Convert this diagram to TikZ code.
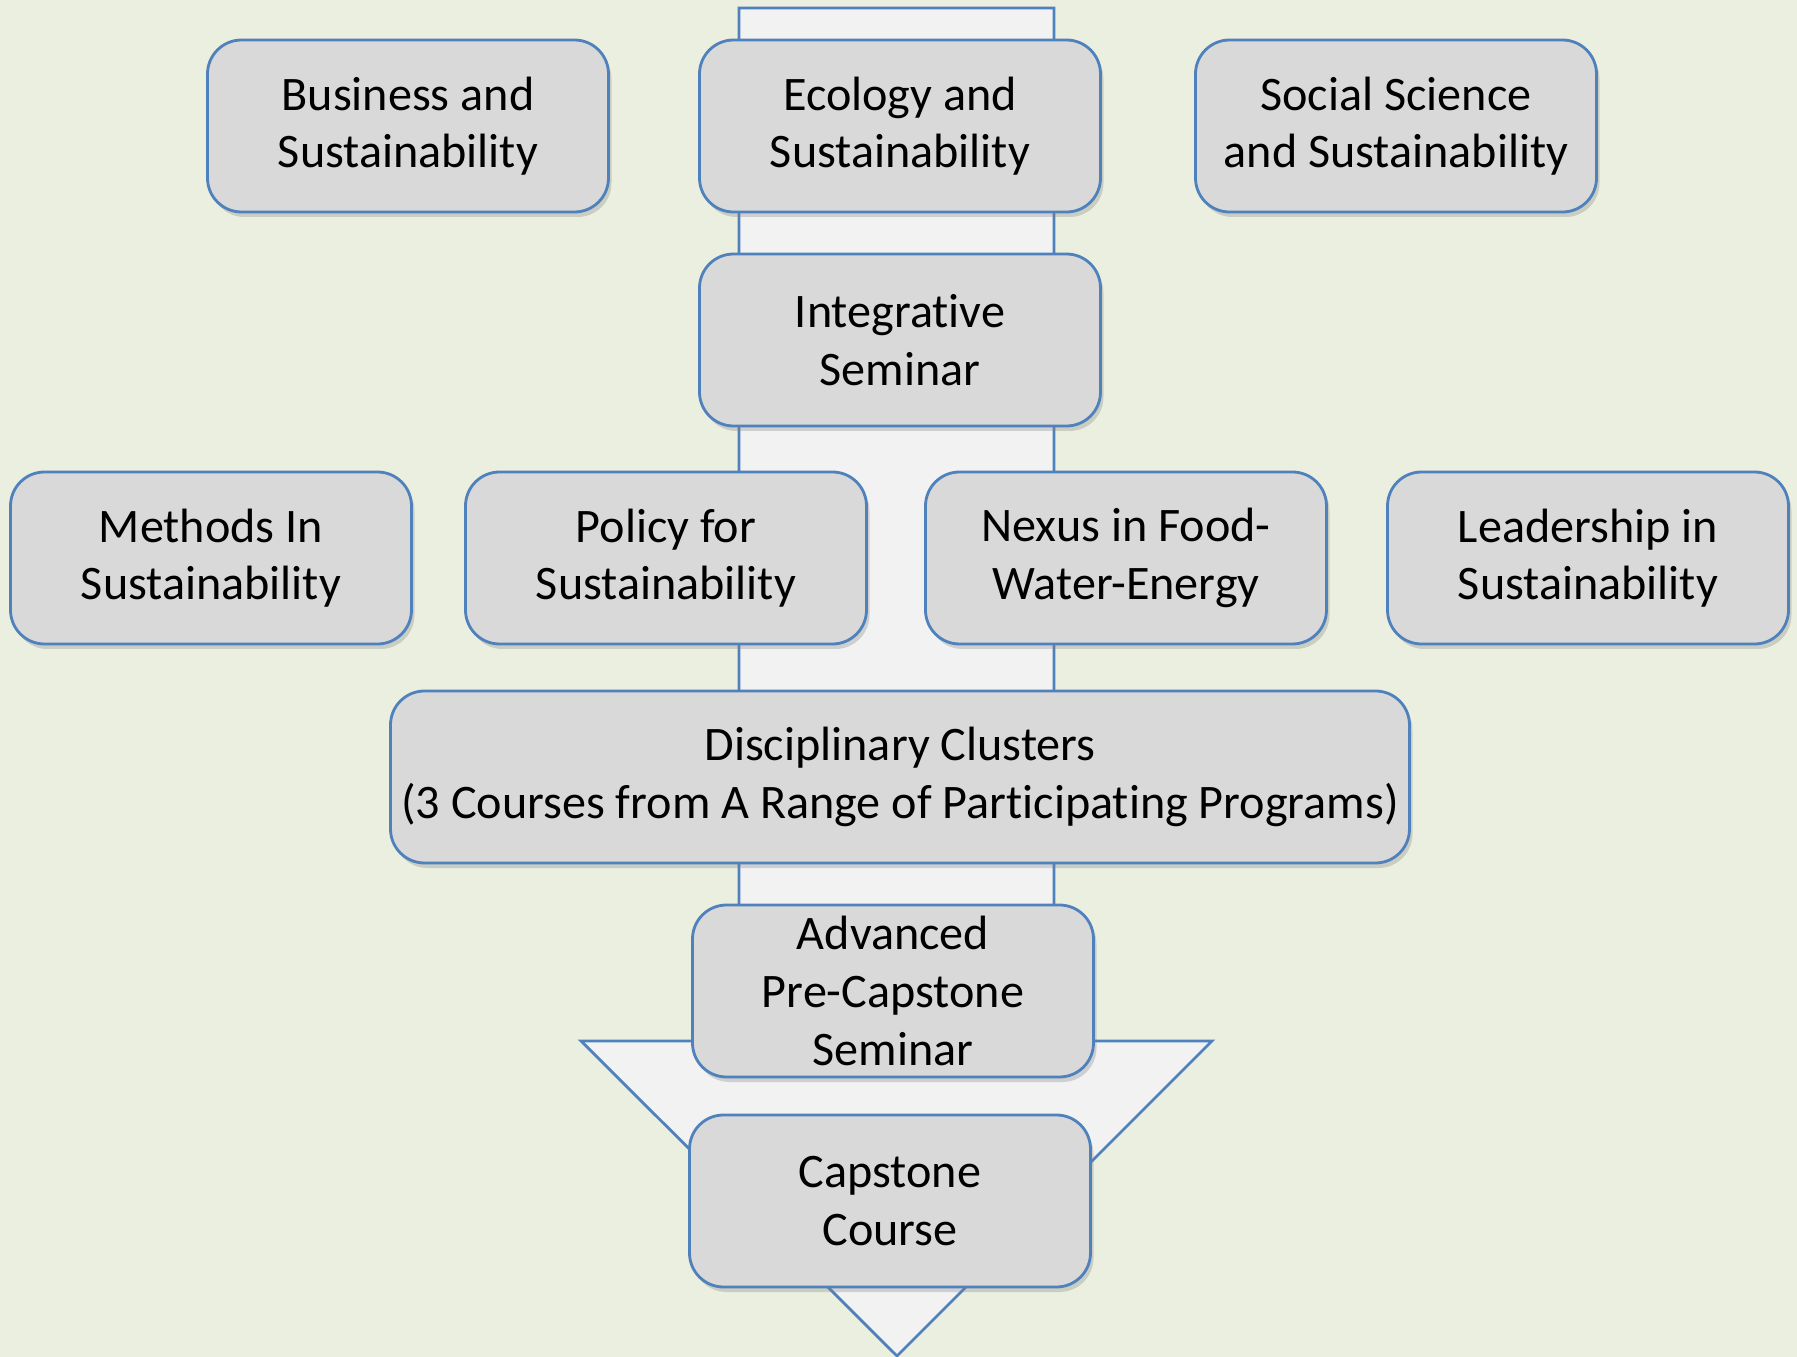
\documentclass[tikz,border=0pt]{standalone}
\usepackage{fontspec}
\setmainfont[Ligatures=NoCommon]{Carlito}
\usetikzlibrary{shadows}
\definecolor{sfondo}{HTML}{EBEFDF}
\definecolor{scatola}{HTML}{D9D9D9}
\definecolor{bordo}{HTML}{4F81BD}
\definecolor{freccia}{HTML}{F2F2F2}

\begin{document}
\begin{tikzpicture}[
    corso/.style={draw=bordo, line width=0.8pt, fill=scatola, rounded corners=0.34cm,
      minimum width=4.01cm, minimum height=1.72cm, align=center, inner sep=0pt,
      font=\fontsize{13.7}{16.4}\selectfont,
      drop shadow={opacity=0.3, shadow xshift=0.03cm, shadow yshift=-0.05cm}}
  ]
        % Sfondo
        \fill[sfondo] (0,0) rectangle (17.97,-13.57);
        \useasboundingbox (0,0) rectangle (17.97,-13.57);

        % Disegna la freccia
        \draw[bordo, line width=0.8pt, fill=freccia] (7.39,-0.08) -- (10.54,-0.08) -- (10.54,-10.41)
        -- (12.12,-10.41) -- (8.97,-13.56) -- (5.81,-10.41) -- (7.39,-10.41) -- cycle;

        % Primo livello
        \node[corso] (business) at (4.08,-1.26) {Business and\\Sustainability};
        \node[corso] (ecology) at (9.00,-1.26) {Ecology and\\Sustainability};
        \node[corso] (social) at (13.96,-1.26) {Social Science\\and Sustainability};

        \node[corso] (seminar) at (9.00,-3.40) {Integrative\\Seminar};

        % Secondo livello
        \node[corso] (methods) at (2.11,-5.58) {Methods In\\Sustainability};
        \node[corso] (policy) at (6.66,-5.58) {Policy for\\Sustainability};
        \node[corso] (nexus) at (11.26,-5.58) {Nexus in Food-\\Water-Energy};
        \node[corso] (leadership) at (15.88,-5.58) {Leadership in\\Sustainability};

        \node[corso, minimum width=10.19cm] (clusters) at (9.00,-7.77)
        {Disciplinary Clusters\\(3 Courses from A Range of Participating Programs)};

        % Capstone
        \node[corso] (advanced) at (8.93,-9.91) {Advanced\\Pre-Capstone\\Seminar};
        \node[corso] (capstone) at (8.90,-12.01) {Capstone\\Course};
    \end{tikzpicture}
\end{document}
